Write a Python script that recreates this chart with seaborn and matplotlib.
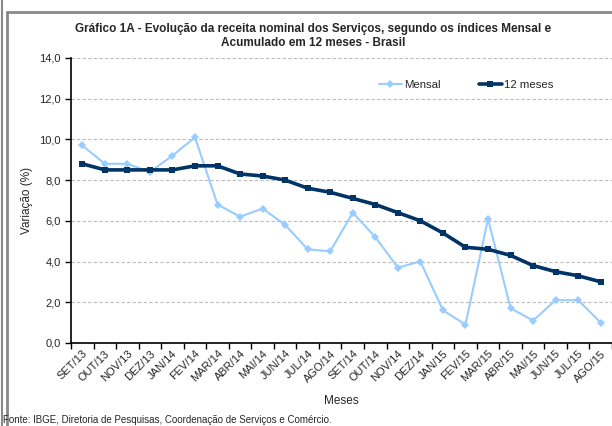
import numpy as np
import pandas as pd
import matplotlib
matplotlib.use("Agg")
import matplotlib.pyplot as plt
from matplotlib.lines import Line2D
from matplotlib.ticker import FuncFormatter
import seaborn as sns

# Chart data
meses = ["SET/13", "OUT/13", "NOV/13", "DEZ/13", "JAN/14", "FEV/14", "MAR/14", "ABR/14",
         "MAI/14", "JUN/14", "JUL/14", "AGO/14", "SET/14", "OUT/14", "NOV/14", "DEZ/14",
         "JAN/15", "FEV/15", "MAR/15", "ABR/15", "MAI/15", "JUN/15", "JUL/15", "AGO/15"]
mensal = [9.7, 8.8, 8.8, 8.4, 9.2, 10.1, 6.8, 6.2, 6.6, 5.8, 4.6, 4.5,
          6.4, 5.2, 3.7, 4.0, 1.6, 0.9, 6.1, 1.7, 1.1, 2.1, 2.1, 1.0]
doze_meses = [8.8, 8.5, 8.5, 8.5, 8.5, 8.7, 8.7, 8.3, 8.2, 8.0, 7.6, 7.4,
              7.1, 6.8, 6.4, 6.0, 5.4, 4.7, 4.6, 4.3, 3.8, 3.5, 3.3, 3.0]
y_ticks = [0, 2, 4, 6, 8, 10, 12, 14]

COR_MENSAL = "#99CCFF"
COR_12M = "#003366"

sns.set_style("white")
plt.rcParams["font.family"] = ["Liberation Sans", "DejaVu Sans"]

df = pd.DataFrame({"pos": np.arange(len(meses)), "Mensal": mensal, "12 meses": doze_meses})

fig = plt.figure(figsize=(6.12, 4.26), dpi=100)
ax = fig.add_axes([0.116, 0.195, 0.884, 0.669])

sns.lineplot(data=df, x="pos", y="Mensal", ax=ax, color=COR_MENSAL, linewidth=1.5,
             marker="D", markersize=4, markeredgewidth=0, zorder=3)
sns.lineplot(data=df, x="pos", y="12 meses", ax=ax, color=COR_12M, linewidth=2.6,
             marker="s", markersize=4.5, markeredgewidth=0, zorder=4)

ax.set_xlim(-0.5, len(meses) - 0.5)
ax.set_ylim(0, 14)
ax.set_yticks(y_ticks)
ax.yaxis.set_major_formatter(FuncFormatter(lambda v, p: f"{v:.1f}".replace(".", ",")))
ax.grid(axis="y", linestyle=(0, (3, 2)), color="#BBBBBB", linewidth=0.8)
ax.set_axisbelow(True)

# tick marks between categories, labels at category centres
ax.set_xticks(np.arange(-0.5, len(meses), 1.0))
ax.set_xticklabels([])
ax.set_xticks(np.arange(len(meses)), minor=True)
ax.set_xticklabels(meses, minor=True, rotation=45, ha="right", rotation_mode="anchor",
                   fontsize=8)
ax.tick_params(axis="x", which="major", length=4, width=1, color="black", direction="out")
ax.tick_params(axis="x", which="minor", length=0, pad=4)
ax.tick_params(axis="y", length=4, width=1, color="black", direction="out", labelsize=8)
ax.xaxis.set_ticks_position("bottom")
ax.yaxis.set_ticks_position("left")

for s in ["top", "right"]:
    ax.spines[s].set_visible(False)
for s in ["left", "bottom"]:
    ax.spines[s].set_color("black")
    ax.spines[s].set_linewidth(1.2)

ax.set_xlabel("Meses", fontsize=8.5, labelpad=8)
ax.set_ylabel("Variação (%)", fontsize=8.5)

handles = [Line2D([], [], color=COR_MENSAL, lw=1.5, marker="D", markersize=4, markeredgewidth=0),
           Line2D([], [], color=COR_12M, lw=2.6, marker="s", markersize=4.5, markeredgewidth=0)]
ax.legend(handles, ["Mensal", "12 meses"], loc="upper left", bbox_to_anchor=(0.55, 0.958),
          ncol=2, frameon=False, fontsize=8.2, handlelength=2.0, handletextpad=0.2,
          columnspacing=3.4)

fig.text(0.512, 0.915, "Gráfico 1A - Evolução da receita nominal dos Serviços, segundo os índices Mensal e\n"
         "Acumulado em 12 meses - Brasil", ha="center", va="center", fontsize=8.5,
         fontweight="bold", linespacing=1.25)
fig.text(0.005, 0.003, "Fonte: IBGE, Diretoria de Pesquisas, Coordenação de Serviços e Comércio.",
         ha="left", va="bottom", fontsize=7)

# outer frame lines
fig.add_artist(Line2D([0.004, 0.004], [0, 1], transform=fig.transFigure, color="#888888", lw=1.5))
fig.add_artist(Line2D([0.011, 0.011], [0, 0.971], transform=fig.transFigure, color="#888888", lw=2))
fig.add_artist(Line2D([0.011, 1], [0.971, 0.971], transform=fig.transFigure, color="#888888", lw=2))

fig.savefig("out.png", dpi=100)
